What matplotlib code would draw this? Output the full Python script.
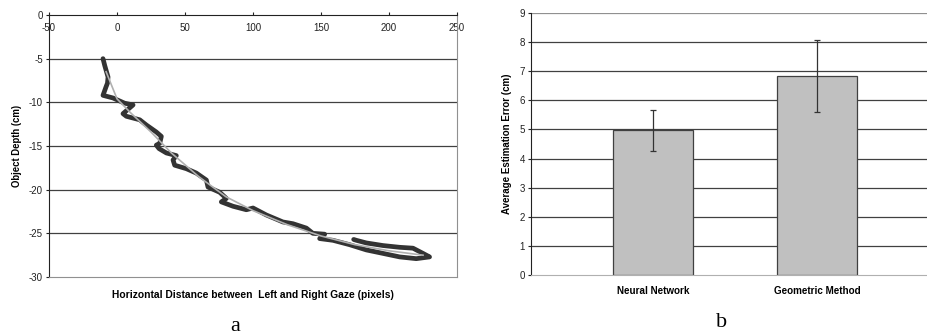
import matplotlib.pyplot as plt

# painel a: pontos medidos (distancia horizontal x profundidade)
gaze_x = [-10.3, -9.0, -6.6, -7.0, -8.0, -10.3, -3.0, 5.6, 11.8, 4.4, 6.9, 16.7, 21.6,
          28.9, 32.6, 31.4, 28.9, 30.9, 36.3, 43.6, 41.2, 42.4, 51.0, 58.3, 65.7, 66.9,
          75.5, 80.4, 76.7, 85.3, 95.1, 100.0, 109.8, 122.0, 129.4, 139.2, 144.0, 152.7,
          149.0, 158.8, 171.0, 183.3, 195.6, 207.8, 220.0, 229.8, 225.0, 217.6, 207.8,
          195.6, 183.3, 176.0, 174.0]
depth = [-5.0, -5.8, -7.1, -7.8, -8.2, -9.2, -9.5, -10.1, -10.3, -11.3, -11.6, -12.0, -12.6,
         -13.4, -13.9, -14.7, -14.9, -15.3, -15.8, -16.1, -16.6, -17.2, -17.6, -18.1, -18.9,
         -19.7, -20.3, -21.0, -21.4, -21.9, -22.3, -22.1, -22.9, -23.7, -23.9, -24.4, -25.0,
         -25.1, -25.6, -25.8, -26.3, -26.9, -27.3, -27.7, -27.9, -27.7, -27.3, -26.7, -26.6,
         -26.4, -26.1, -25.8, -25.7]

# curva ajustada (cinza)
fit_x = [-8, 0, 10, 25, 40, 60, 80, 100, 125, 150, 175, 200, 225]
fit_y = [-6.5, -9.6, -11.2, -13.4, -15.8, -18.5, -20.8, -22.4, -24.0, -25.3, -26.3, -27.0, -27.5]

# painel b: erro medio
metodos = ["Neural Network", "Geometric Method"]
erro_medio = [4.97, 6.83]
erro_desvio = [0.70, 1.23]

FONTE = "Liberation Sans"
GRID = "#404040"
plt.rcParams["axes.unicode_minus"] = False

fig = plt.figure(figsize=(9.28, 3.36), dpi=100)

# ---------- painel a ----------
ax1 = fig.add_axes([0.0528, 0.1756, 0.4397, 0.7798])
ax1.set_xlim(-50, 250)
ax1.set_ylim(-30, 0)
for v in [-5, -10, -15, -20, -25]:
    ax1.axhline(v, color=GRID, lw=0.9, zorder=1)
ax1.plot(gaze_x, depth, color="#333333", lw=3.4, solid_joinstyle="round",
         solid_capstyle="round", zorder=3)
ax1.plot(fit_x, fit_y, color="#b0b0b0", lw=1.2, zorder=4)

ax1.set_xticks([-50, 0, 50, 100, 150, 200, 250])
ax1.set_yticks([0, -5, -10, -15, -20, -25, -30])
ax1.xaxis.tick_top()
ax1.tick_params(axis="x", direction="out", length=2, width=0.8, pad=-15,
                labelsize=7, colors="#222222")
ax1.tick_params(axis="y", direction="out", length=2.5, width=0.8, pad=2,
                labelsize=7, colors="#222222")
for lab in ax1.get_xticklabels() + ax1.get_yticklabels():
    lab.set_fontfamily(FONTE)
ax1.spines["top"].set_color("#222222")
ax1.spines["left"].set_color("#222222")
ax1.spines["right"].set_color("#909090")
ax1.spines["bottom"].set_color("#909090")
ax1.set_ylabel("Object Depth (cm)", fontsize=6.9, fontweight="bold", family=FONTE, labelpad=5)
fig.text(0.273, 0.121, "Horizontal Distance between  Left and Right Gaze (pixels)",
         ha="center", va="center", fontsize=7.4, fontweight="bold", family=FONTE)
fig.text(0.253, 0.016, "a", ha="center", va="baseline", fontsize=16, family="Liberation Serif")

# ---------- painel b ----------
ax2 = fig.add_axes([0.5722, 0.1815, 0.4278, 0.7798])
pos = list(range(len(metodos)))
ax2.set_xlim(-0.744, 1.677)
ax2.set_ylim(0, 9)
for v in range(1, 10):
    ax2.axhline(v, color=GRID if v != 9 else "#909090", lw=0.9, zorder=1)
ax2.bar(pos, erro_medio, width=0.49, color="#c0c0c0", edgecolor="#404040", lw=0.9, zorder=2)
ax2.errorbar(pos, erro_medio, yerr=erro_desvio, fmt="none", ecolor="#333333",
             elinewidth=0.9, capsize=2.3, capthick=0.9, zorder=3)
ax2.set_xticks(pos)
ax2.set_xticklabels(metodos, fontsize=7.1, fontweight="bold", family=FONTE)
ax2.tick_params(axis="x", length=0, pad=8)
ax2.set_yticks(range(0, 10))
ax2.tick_params(axis="y", direction="out", length=2.5, width=0.8, pad=2,
                labelsize=7, colors="#222222")
for lab in ax2.get_yticklabels():
    lab.set_fontfamily(FONTE)
ax2.spines["top"].set_visible(False)
ax2.spines["right"].set_visible(False)
ax2.spines["left"].set_color("#222222")
ax2.spines["bottom"].set_color("#b0b0b0")
ax2.set_ylabel("Average Estimation Error (cm)", fontsize=7, fontweight="bold",
               family=FONTE, labelpad=5)
fig.text(0.778, 0.027, "b", ha="center", va="baseline", fontsize=16, family="Liberation Serif")

fig.savefig("out.png", dpi=100)
